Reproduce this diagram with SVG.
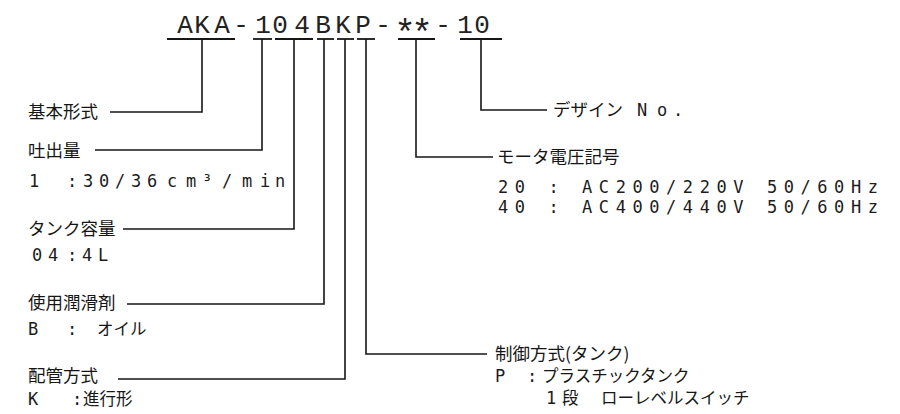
<svg xmlns="http://www.w3.org/2000/svg" width="900" height="414" viewBox="0 0 900 414">
<style>
.t{font-family:"Liberation Mono","DejaVu Sans Mono",monospace;fill:#222222}
.j{font-family:"Noto Sans CJK JP","Noto Sans",sans-serif;fill:#161616;font-size:17.5px}
.v{font-family:"DejaVu Sans Mono","Liberation Mono",monospace;fill:#1c1c1c;font-size:17px}
.vj{font-family:"Noto Sans CJK JP","Noto Sans",sans-serif;fill:#161616;font-size:16.5px}
.ln{stroke:#161616;stroke-width:1.6;fill:none}
.ul{stroke:#161616;stroke-width:1.8;fill:none}
</style>
<rect width="900" height="414" fill="#ffffff"/>
<g id="model-code">
<text class="t" font-size="26" y="33" text-anchor="middle"><tspan x="185 202 222 241 263 280 302 323 343 363 383">AKA-104BKP-</tspan><tspan x="405 422" y="45" font-size="36">**</tspan><tspan x="443 465 482" y="33">-10</tspan></text>
<g class="ul">
<line x1="167" y1="39" x2="235" y2="39"/>
<line x1="253" y1="39" x2="272" y2="39"/>
<line x1="275" y1="39" x2="313" y2="39"/>
<line x1="317" y1="39" x2="334" y2="39"/>
<line x1="337" y1="39" x2="354" y2="39"/>
<line x1="357" y1="39" x2="375" y2="39"/>
<line x1="398" y1="39" x2="435" y2="39"/>
<line x1="460" y1="39" x2="502" y2="39"/>
</g>
</g>
<g id="connectors" class="ln">
<polyline points="202,39 202,112 110,112"/>
<polyline points="262,39 262,150 95,150"/>
<polyline points="294,39 294,229 123,229"/>
<polyline points="324,39 324,304 127,304"/>
<polyline points="345,39 345,379 118,379"/>
<polyline points="366,39 366,354 487,354"/>
<polyline points="416,39 416,157 493,157"/>
<polyline points="481,39 481,110 547,110"/>
</g>
<g id="basic-type">
<text class="j" x="28" y="117.5">基本形式</text>
</g>
<g id="discharge">
<text class="j" x="28" y="157">吐出量</text>
<text class="v" y="187" text-anchor="middle" x="34 53 72 88 104 120 136 152 172 191 207 227 247 265 280">1 :30/36cm³/min</text>
</g>
<g id="tank-capacity">
<text class="j" x="28" y="235">タンク容量</text>
<text class="v" y="261" text-anchor="middle" x="37 53 72 87 103">04:4L</text>
</g>
<g id="lubricant">
<text class="j" x="28" y="309">使用潤滑剤</text>
<text y="335"><tspan class="v" x="28">B</tspan><tspan class="v" x="67">:</tspan><tspan class="vj" x="97">オイル</tspan></text>
</g>
<g id="piping">
<text class="j" x="28" y="382">配管方式</text>
<text y="405"><tspan class="v" x="28">K</tspan><tspan class="v" x="72">:</tspan><tspan class="vj" x="83">進行形</tspan></text>
</g>
<g id="design-no">
<text x="553" y="116"><tspan class="j">デザイン</tspan><tspan class="v" x="642 662 678" text-anchor="middle">No.</tspan></text>
</g>
<g id="motor-voltage">
<text class="j" x="497" y="163">モータ電圧記号</text>
<text class="v" x="498" y="193" letter-spacing="6.57">20 : AC200/220V 50/60Hz</text>
<text class="v" x="498" y="213" letter-spacing="6.57">40 : AC400/440V 50/60Hz</text>
</g>
<g id="control-method">
<text class="j" x="495" y="360" font-size="17">制御方式(タンク)</text>
<text y="382"><tspan class="v" x="495">P</tspan><tspan class="v" x="527">:</tspan><tspan class="vj" x="542">プラスチックタンク</tspan></text>
<text y="404"><tspan class="v" x="546">1</tspan><tspan class="vj" x="562">段</tspan><tspan class="vj" x="601" font-size="17">ローレベルスイッチ</tspan></text>
</g>
</svg>
